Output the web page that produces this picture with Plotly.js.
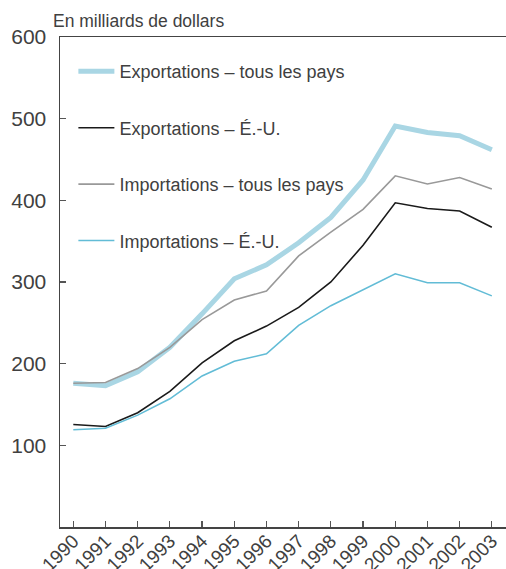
<!DOCTYPE html>
<html>
<head>
<meta charset="utf-8">
<script src="https://cdn.plot.ly/plotly-3.0.1.min.js"></script>
<style>html,body{margin:0;padding:0;background:#fff;}#chart{width:506px;height:569px;}</style>
</head>
<body>
<div id="chart"></div>
<script>
const years = [1990,1991,1992,1993,1994,1995,1996,1997,1998,1999,2000,2001,2002,2003];
const exportsAll = [176,173,190,220,261,304,321,348,379,425,491,483,479,462];
const exportsUS  = [125.5,123,140,166,201,228,246,269,300,345,397,390,387,367];
const importsAll = [176,177,194,220,254,278,289,332,361,389,430,420,428,414];
const importsUS  = [119,121,137,157,185,203,212,247,271,290,310,299,299,283];
const seriesNames = ["Exportations – tous les pays","Exportations – É.-U.","Importations – tous les pays","Importations – É.-U."];
const yTicks = [100,200,300,400,500,600];

const FONT = "Liberation Sans, Arial, sans-serif";
const TXT = "#404040";

const traces = [
  {x: years, y: exportsAll, name: seriesNames[0], legendgroup: "a", legendrank: 1, mode: "lines", line: {color: "#a9d6e4", width: 5}},
  {x: years, y: importsAll, name: seriesNames[2], legendgroup: "c", legendrank: 3, mode: "lines", line: {color: "#999999", width: 1.6}},
  {x: years, y: exportsUS,  name: seriesNames[1], legendgroup: "b", legendrank: 2, mode: "lines", line: {color: "#1a1a1a", width: 1.6}},
  {x: years, y: importsUS,  name: seriesNames[3], legendgroup: "d", legendrank: 4, mode: "lines", line: {color: "#62bcd6", width: 1.6}}
];

const layout = {
  width: 506, height: 569,
  margin: {l: 60, r: 0, t: 37, b: 42},
  paper_bgcolor: "#fff", plot_bgcolor: "#fff",
  font: {family: FONT, color: TXT},
  title: {text: "En milliards de dollars", font: {family: FONT, size: 17.5, color: TXT},
          xref: "container", x: 53/506, xanchor: "left", yref: "container", y: 1 - 21/569, yanchor: "middle"},
  showlegend: true,
  legend: {x: 0.03, xanchor: "left", y: 0.967, yanchor: "top", bgcolor: "rgba(0,0,0,0)",
           itemwidth: 36,
           traceorder: "grouped", tracegroupgap: 30, font: {family: FONT, size: 18, color: TXT}},
  xaxis: {range: [1989.587, 2003.44], tickvals: years, ticktext: years.map(String), tickangle: -45,
          ticks: "inside", ticklen: 6, tickcolor: "#555", tickwidth: 1.2,
          showline: true, linecolor: "#444", linewidth: 1.5, mirror: true,
          showgrid: false, zeroline: false, ticklabelstandoff: -6,
          tickfont: {family: FONT, size: 19, color: TXT}},
  yaxis: {range: [0, 600], tickvals: yTicks, ticktext: yTicks.map(String),
          ticks: "inside", ticklen: 6, tickcolor: "#555", tickwidth: 1.2,
          showline: true, linecolor: "#444", linewidth: 1.5,
          showgrid: false, zeroline: false, ticklabelstandoff: 8,
          tickfont: {family: FONT, size: 21, color: TXT}}
};

Plotly.newPlot("chart", traces, layout, {displayModeBar: false, staticPlot: true});
</script>
</body>
</html>
